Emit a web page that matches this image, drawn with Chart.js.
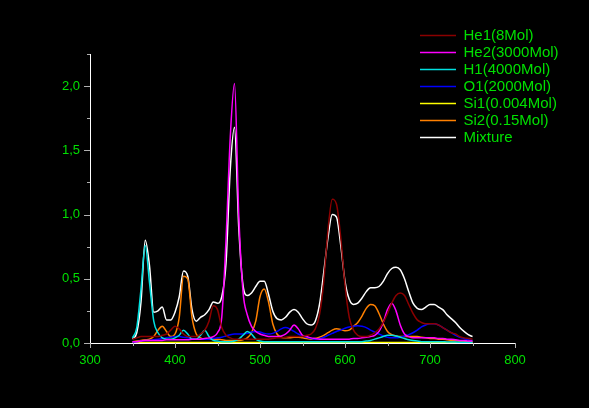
<!DOCTYPE html>
<html>
<head>
<meta charset="utf-8">
<script src="https://cdn.jsdelivr.net/npm/chart.js@4.4.0/dist/chart.umd.min.js"></script>
<style>
  html, body { margin: 0; padding: 0; background: #000; }
  #spec { display: block; background: #000; }
</style>
</head>
<body>
<canvas id="spec" width="589" height="408"></canvas>
<script>
// wavelength grid (nm)
const wavelengths = [
  350,355,360,365,370,375,380,385,390,395,
  400,405,410,415,420,425,430,435,440,445,
  450,455,460,465,470,475,480,485,490,495,
  500,505,510,515,520,525,530,535,540,545,
  550,555,560,565,570,575,580,585,590,595,
  600,605,610,615,620,625,630,635,640,645,
  650,655,660,665,670,675,680,685,690,695,
  700,705,710,715,720,725,730,735,740,745,
  750
];

const he1 = [
  0.03,0.04,0.05,0.05,0.05,0.05,0.05,0.06,0.07,0.10,
  0.13,0.11,0.07,0.05,0.05,0.05,0.07,0.10,0.17,0.29,
  0.26,0.12,0.06,0.04,0.03,0.03,0.03,0.03,0.03,0.03,
  0.03,0.03,0.03,0.035,0.04,0.04,0.045,0.05,0.05,0.05,
  0.05,0.06,0.07,0.11,0.22,0.48,0.88,1.12,1.08,0.82,
  0.45,0.20,0.10,0.06,0.05,0.05,0.06,0.08,0.11,0.16,
  0.23,0.31,0.37,0.39,0.37,0.30,0.23,0.18,0.16,0.15,
  0.15,0.15,0.14,0.12,0.10,0.08,0.07,0.05,0.04,0.035,
  0.03
];

const he2 = [
  0.01,0.01,0.015,0.02,0.02,0.02,0.02,0.02,0.025,0.025,
  0.025,0.025,0.025,0.025,0.03,0.03,0.03,0.035,0.04,0.05,
  0.08,0.20,0.80,1.60,2.02,1.00,0.40,0.22,0.13,0.09,
  0.07,0.06,0.05,0.05,0.05,0.055,0.07,0.10,0.14,0.11,
  0.06,0.05,0.04,0.035,0.03,0.03,0.03,0.03,0.03,0.03,
  0.03,0.03,0.035,0.035,0.04,0.045,0.05,0.06,0.09,0.16,
  0.26,0.31,0.25,0.14,0.07,0.05,0.04,0.04,0.04,0.04,
  0.04,0.04,0.035,0.035,0.03,0.03,0.025,0.02,0.02,0.015,
  0.015
];

const h1 = [
  0.04,0.12,0.42,0.76,0.47,0.17,0.08,0.04,0.03,0.03,
  0.04,0.06,0.10,0.07,0.03,0.03,0.06,0.10,0.05,0.02,
  0.015,0.01,0.01,0.01,0.015,0.03,0.06,0.09,0.07,0.03,
  0.015,0.01,0.01,0.01,0.01,0.01,0.01,0.01,0.01,0.01,
  0.01,0.01,0.01,0.01,0.01,0.01,0.01,0.01,0.01,0.01,
  0.01,0.01,0.01,0.01,0.01,0.015,0.02,0.03,0.04,0.05,
  0.06,0.06,0.055,0.045,0.035,0.025,0.02,0.015,0.01,0.01,
  0.01,0.01,0.01,0.01,0.008,0.008,0.007,0.006,0.005,0.005,
  0.005
];

const o1 = [
  0.005,0.01,0.015,0.02,0.02,0.025,0.03,0.035,0.04,0.045,
  0.05,0.05,0.045,0.04,0.035,0.03,0.03,0.03,0.03,0.035,
  0.04,0.045,0.055,0.065,0.07,0.07,0.07,0.075,0.085,0.09,
  0.085,0.075,0.07,0.075,0.09,0.11,0.12,0.11,0.09,0.07,
  0.055,0.045,0.035,0.03,0.035,0.045,0.06,0.075,0.09,0.10,
  0.115,0.125,0.13,0.135,0.13,0.12,0.10,0.085,0.07,0.055,
  0.045,0.04,0.04,0.045,0.055,0.065,0.08,0.10,0.125,0.14,
  0.15,0.15,0.14,0.12,0.10,0.08,0.06,0.045,0.035,0.025,
  0.02
];

const si1 = [
  0.003,0.003,0.004,0.004,0.004,0.004,0.004,0.004,0.004,0.004,
  0.004,0.004,0.004,0.004,0.004,0.004,0.004,0.004,0.004,0.004,
  0.004,0.004,0.004,0.004,0.004,0.004,0.004,0.004,0.004,0.004,
  0.004,0.004,0.004,0.004,0.004,0.004,0.004,0.004,0.004,0.004,
  0.004,0.004,0.004,0.004,0.004,0.004,0.004,0.004,0.004,0.004,
  0.004,0.004,0.004,0.004,0.004,0.004,0.004,0.004,0.004,0.004,
  0.004,0.004,0.004,0.004,0.004,0.004,0.004,0.004,0.004,0.004,
  0.004,0.004,0.004,0.004,0.004,0.004,0.004,0.003,0.003,0.003,
  0.003
];

const si2 = [
  0.01,0.015,0.02,0.025,0.03,0.05,0.10,0.13,0.09,0.05,
  0.07,0.20,0.52,0.50,0.20,0.07,0.04,0.03,0.03,0.03,
  0.03,0.025,0.02,0.02,0.02,0.02,0.025,0.04,0.08,0.17,
  0.36,0.42,0.32,0.15,0.07,0.045,0.04,0.04,0.045,0.045,
  0.04,0.035,0.03,0.035,0.045,0.06,0.08,0.10,0.11,0.105,
  0.095,0.10,0.13,0.16,0.21,0.27,0.30,0.29,0.23,0.15,
  0.09,0.065,0.055,0.05,0.05,0.05,0.05,0.05,0.045,0.04,
  0.035,0.035,0.03,0.03,0.025,0.02,0.02,0.015,0.015,0.01,
  0.01
];

const mixture = [
  0.03,0.08,0.32,0.80,0.60,0.24,0.25,0.28,0.18,0.18,
  0.24,0.36,0.56,0.52,0.26,0.17,0.20,0.22,0.26,0.32,
  0.31,0.36,0.62,1.35,1.68,0.90,0.45,0.37,0.39,0.44,
  0.48,0.48,0.38,0.25,0.19,0.18,0.20,0.24,0.26,0.24,
  0.19,0.15,0.14,0.17,0.30,0.55,0.82,1.00,0.98,0.76,
  0.48,0.34,0.30,0.31,0.35,0.40,0.43,0.43,0.44,0.48,
  0.54,0.58,0.59,0.57,0.50,0.40,0.31,0.27,0.26,0.28,
  0.30,0.30,0.28,0.26,0.22,0.19,0.16,0.12,0.09,0.065,
  0.05
];

const seriesNames = ['He1(8Mol)', 'He2(3000Mol)', 'H1(4000Mol)', 'O1(2000Mol)', 'Si1(0.004Mol)', 'Si2(0.15Mol)', 'Mixture'];
const seriesData = [he1, he2, h1, o1, si1, si2, mixture];
const seriesColors = ['#8b0000', '#ff00ff', '#00e0e0', '#0000ff', '#ffff00', '#ff8000', '#ffffff'];

const xTicksMajor = [300, 400, 500, 600, 700, 800];
const xTicksMinor = [350, 450, 550, 650, 750];
const yTicksMajor = [0, 0.5, 1.0, 1.5, 2.0];
const yTicksMinor = [0.25, 0.75, 1.25, 1.75, 2.25];

const green = '#00e000';

// tick marks drawn on the axes, long for major, short for minor
const axisTicks = {
  id: 'axisTicks',
  afterDraw(chart) {
    const ctx = chart.ctx;
    const xs = chart.scales.x, ys = chart.scales.y;
    const area = chart.chartArea;
    ctx.save();
    ctx.strokeStyle = '#b0b0b0';
    ctx.lineWidth = 1;
    ctx.beginPath();
    yTicksMajor.forEach(v => {
      const py = Math.round(ys.getPixelForValue(v)) + 0.5;
      ctx.moveTo(area.left - 6, py); ctx.lineTo(area.left, py);
    });
    yTicksMinor.forEach(v => {
      const py = Math.round(ys.getPixelForValue(v)) + 0.5;
      ctx.moveTo(area.left - 3, py); ctx.lineTo(area.left, py);
    });
    xTicksMajor.forEach(v => {
      const px = Math.round(xs.getPixelForValue(v)) + 0.5;
      ctx.moveTo(px, area.bottom); ctx.lineTo(px, area.bottom + 5);
    });
    xTicksMinor.forEach(v => {
      const px = Math.round(xs.getPixelForValue(v)) + 0.5;
      ctx.moveTo(px, area.bottom); ctx.lineTo(px, area.bottom + 3);
    });
    ctx.stroke();
    ctx.restore();
  }
};

// put the legend column in the upper right corner
const legendSpot = {
  id: 'legendSpot',
  afterLayout(chart) {
    const lg = chart.legend;
    const w = lg.width, h = lg.height;
    lg.left = 418; lg.top = 26;
    lg.right = lg.left + w; lg.bottom = lg.top + h;
  }
};

const ctx = document.getElementById('spec').getContext('2d');
new Chart(ctx, {
  type: 'line',
  data: {
    datasets: seriesNames.map((name, i) => ({
      label: name,
      data: wavelengths.map((w, k) => ({ x: w, y: seriesData[i][k] })),
      borderColor: seriesColors[i],
      backgroundColor: seriesColors[i],
      borderWidth: 1.5,
      pointRadius: 0,
      fill: false,
      cubicInterpolationMode: 'monotone'
    }))
  },
  options: {
    responsive: false,
    animation: false,
    layout: { padding: { left: 0, top: 54, right: 74, bottom: 0 } },
    scales: {
      x: {
        type: 'linear',
        min: 300,
        max: 800,
        afterFit: s => { s.height = 65; },
        ticks: {
          stepSize: 100,
          color: green,
          padding: 2,
          font: { family: 'Liberation Sans', size: 13 }
        },
        grid: { display: false },
        border: { display: true, color: '#ffffff', width: 1 }
      },
      y: {
        min: 0,
        max: 2.25,
        afterFit: s => { s.width = 90; },
        ticks: {
          stepSize: 0.5,
          color: green,
          padding: 2,
          font: { family: 'Liberation Sans', size: 13 },
          callback: v => (Math.abs(v * 2 - Math.round(v * 2)) < 1e-6 ? v.toFixed(1).replace('.', ',') : '')
        },
        grid: { display: false },
        border: { display: true, color: '#ffffff', width: 1 }
      }
    },
    plugins: {
      tooltip: { enabled: false },
      legend: {
        position: 'chartArea',
        align: 'start',
        labels: {
          color: green,
          boxWidth: 36,
          boxHeight: 0,
          padding: 2,
          font: { family: 'Liberation Sans', size: 15 }
        }
      }
    }
  },
  plugins: [axisTicks, legendSpot]
});
</script>
</body>
</html>
